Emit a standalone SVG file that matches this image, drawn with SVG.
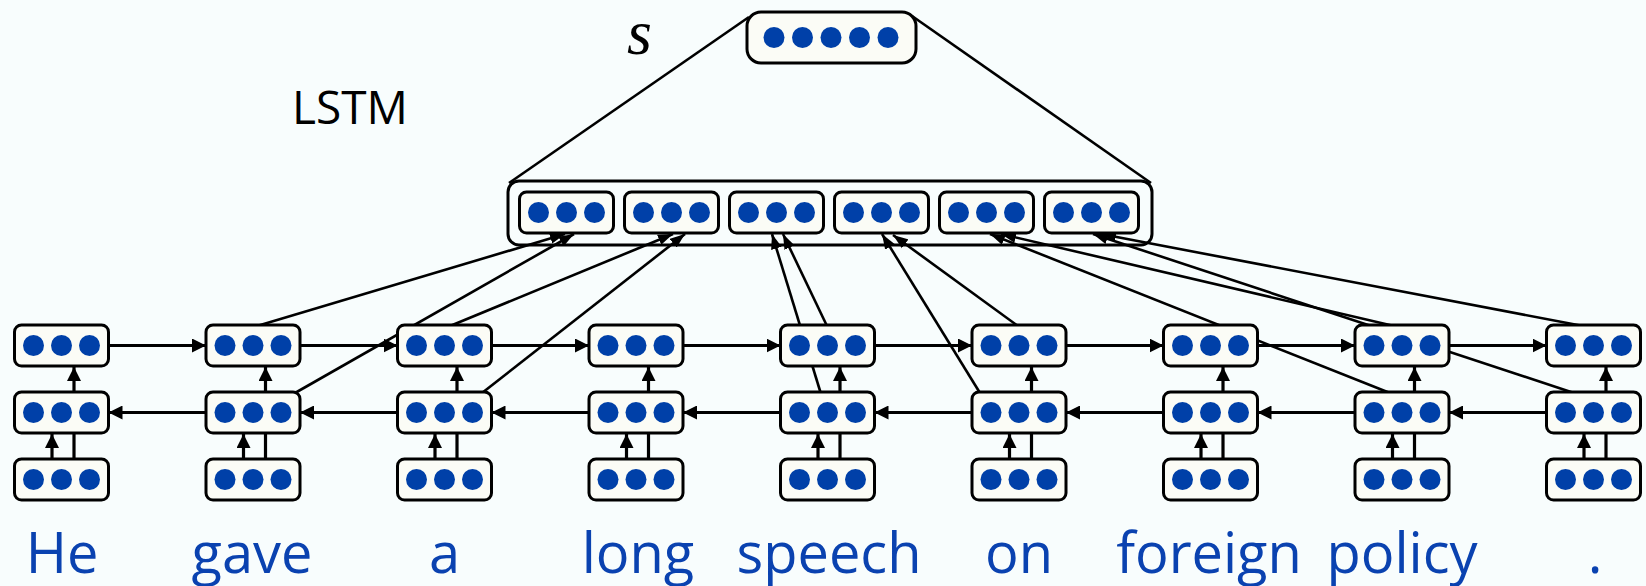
<svg xmlns="http://www.w3.org/2000/svg" xmlns:xlink="http://www.w3.org/1999/xlink" width="1646" height="586" viewBox="0 0 1646 586">
<style>
.bx{fill:#fbfcf6;stroke:#000;stroke-width:3}
.dot{fill:#0040a8}
.cn{stroke:#000;stroke-width:2.6;fill:none}
.hz{stroke:#000;stroke-width:3.2;fill:none}
.word{font-family:"Open Sans","DejaVu Sans",sans-serif;font-size:56px;fill:#0a42b0;text-anchor:middle}
</style>
<defs>
<marker id="ah" markerUnits="userSpaceOnUse" markerWidth="15" markerHeight="14" refX="14" refY="7" orient="auto"><path d="M0,0 L14,7 L0,14 z" fill="#000"/></marker>
<marker id="ad" markerUnits="userSpaceOnUse" markerWidth="16" markerHeight="12" refX="15" refY="6" orient="auto"><path d="M0,0.5 L15,6 L0,11.5 z" fill="#000"/></marker>
<g id="v3"><rect class="bx" x="0" y="0" width="94" height="41" rx="7"/><circle class="dot" cx="19" cy="20.5" r="10.5"/><circle class="dot" cx="47" cy="20.5" r="10.5"/><circle class="dot" cx="75" cy="20.5" r="10.5"/></g>
</defs>
<rect x="0" y="0" width="1646" height="586" fill="#f8fdfd"/>

<g id="node-container">
<rect x="508" y="181" width="644" height="64" rx="11" fill="#f8fdfd" stroke="#000" stroke-width="3"/>
</g>

<g id="connectors">
<line class="cn" x1="749" y1="17" x2="509" y2="183"/>
<line class="cn" x1="912" y1="16" x2="1151" y2="183"/>
<!-- forward top row -->
<line class="hz" x1="108.5" y1="345.5" x2="206" y2="345.5" marker-end="url(#ah)"/>
<line class="hz" x1="300" y1="345.5" x2="397.5" y2="345.5" marker-end="url(#ah)"/>
<line class="hz" x1="491.5" y1="345.5" x2="589" y2="345.5" marker-end="url(#ah)"/>
<line class="hz" x1="683" y1="345.5" x2="780.5" y2="345.5" marker-end="url(#ah)"/>
<line class="hz" x1="874.5" y1="345.5" x2="972" y2="345.5" marker-end="url(#ah)"/>
<line class="hz" x1="1066" y1="345.5" x2="1163.5" y2="345.5" marker-end="url(#ah)"/>
<line class="hz" x1="1257.5" y1="345.5" x2="1355" y2="345.5" marker-end="url(#ah)"/>
<line class="hz" x1="1449" y1="345.5" x2="1546.5" y2="345.5" marker-end="url(#ah)"/>
<!-- backward middle row -->
<line class="hz" x1="206" y1="412.5" x2="108.5" y2="412.5" marker-end="url(#ah)"/>
<line class="hz" x1="397.5" y1="412.5" x2="300" y2="412.5" marker-end="url(#ah)"/>
<line class="hz" x1="589" y1="412.5" x2="491.5" y2="412.5" marker-end="url(#ah)"/>
<line class="hz" x1="780.5" y1="412.5" x2="683" y2="412.5" marker-end="url(#ah)"/>
<line class="hz" x1="972" y1="412.5" x2="874.5" y2="412.5" marker-end="url(#ah)"/>
<line class="hz" x1="1163.5" y1="412.5" x2="1066" y2="412.5" marker-end="url(#ah)"/>
<line class="hz" x1="1355" y1="412.5" x2="1257.5" y2="412.5" marker-end="url(#ah)"/>
<line class="hz" x1="1546.5" y1="412.5" x2="1449" y2="412.5" marker-end="url(#ah)"/>
<!-- vertical arrows per column -->
<line class="hz" x1="52" y1="459" x2="52" y2="434" marker-end="url(#ah)"/><line class="hz" x1="74" y1="460" x2="74" y2="433"/><line class="hz" x1="74" y1="392" x2="74" y2="367" marker-end="url(#ah)"/>
<line class="hz" x1="243.5" y1="459" x2="243.5" y2="434" marker-end="url(#ah)"/><line class="hz" x1="265.5" y1="460" x2="265.5" y2="433"/><line class="hz" x1="265.5" y1="392" x2="265.5" y2="367" marker-end="url(#ah)"/>
<line class="hz" x1="435" y1="459" x2="435" y2="434" marker-end="url(#ah)"/><line class="hz" x1="457" y1="460" x2="457" y2="433"/><line class="hz" x1="457" y1="392" x2="457" y2="367" marker-end="url(#ah)"/>
<line class="hz" x1="626.5" y1="459" x2="626.5" y2="434" marker-end="url(#ah)"/><line class="hz" x1="648.5" y1="460" x2="648.5" y2="433"/><line class="hz" x1="648.5" y1="392" x2="648.5" y2="367" marker-end="url(#ah)"/>
<line class="hz" x1="818" y1="459" x2="818" y2="434" marker-end="url(#ah)"/><line class="hz" x1="840" y1="460" x2="840" y2="433"/><line class="hz" x1="840" y1="392" x2="840" y2="367" marker-end="url(#ah)"/>
<line class="hz" x1="1009.5" y1="459" x2="1009.5" y2="434" marker-end="url(#ah)"/><line class="hz" x1="1031.5" y1="460" x2="1031.5" y2="433"/><line class="hz" x1="1031.5" y1="392" x2="1031.5" y2="367" marker-end="url(#ah)"/>
<line class="hz" x1="1201" y1="459" x2="1201" y2="434" marker-end="url(#ah)"/><line class="hz" x1="1223" y1="460" x2="1223" y2="433"/><line class="hz" x1="1223" y1="392" x2="1223" y2="367" marker-end="url(#ah)"/>
<line class="hz" x1="1392.5" y1="459" x2="1392.5" y2="434" marker-end="url(#ah)"/><line class="hz" x1="1414.5" y1="460" x2="1414.5" y2="433"/><line class="hz" x1="1414.5" y1="392" x2="1414.5" y2="367" marker-end="url(#ah)"/>
<line class="hz" x1="1584" y1="459" x2="1584" y2="434" marker-end="url(#ah)"/><line class="hz" x1="1606" y1="460" x2="1606" y2="433"/><line class="hz" x1="1606" y1="392" x2="1606" y2="367" marker-end="url(#ah)"/>
<!-- states to phrase vector -->
<line class="cn" x1="257" y1="326" x2="565" y2="234" marker-end="url(#ad)"/>
<line class="cn" x1="295" y1="393" x2="574" y2="234" marker-end="url(#ad)"/>
<line class="cn" x1="450" y1="326" x2="673" y2="234" marker-end="url(#ad)"/>
<line class="cn" x1="482" y1="393" x2="685" y2="234" marker-end="url(#ad)"/>
<line class="cn" x1="827" y1="326" x2="783" y2="234" marker-end="url(#ad)"/>
<line class="cn" x1="821" y1="394" x2="772" y2="234" marker-end="url(#ad)"/>
<line class="cn" x1="980" y1="393" x2="882" y2="234" marker-end="url(#ad)"/>
<line class="cn" x1="1018" y1="326" x2="893" y2="235" marker-end="url(#ad)"/>
<line class="cn" x1="1390" y1="393" x2="990" y2="234" marker-end="url(#ad)"/>
<line class="cn" x1="1394" y1="326" x2="1001" y2="234" marker-end="url(#ad)"/>
<line class="cn" x1="1574" y1="393" x2="1093" y2="234" marker-end="url(#ad)"/>
<line class="cn" x1="1583" y1="326" x2="1101" y2="234" marker-end="url(#ad)"/>
</g>

<g id="node-s">
<rect class="bx" x="747" y="12" width="169" height="51" rx="14"/>
<circle class="dot" cx="774" cy="37.5" r="10.5"/><circle class="dot" cx="802.5" cy="37.5" r="10.5"/><circle class="dot" cx="831" cy="37.5" r="10.5"/><circle class="dot" cx="859.5" cy="37.5" r="10.5"/><circle class="dot" cx="888" cy="37.5" r="10.5"/>
</g>
<g id="phrase-1"><use xlink:href="#v3" x="519.5" y="192"/></g>
<g id="phrase-2"><use xlink:href="#v3" x="624.5" y="192"/></g>
<g id="phrase-3"><use xlink:href="#v3" x="729.5" y="192"/></g>
<g id="phrase-4"><use xlink:href="#v3" x="834.5" y="192"/></g>
<g id="phrase-5"><use xlink:href="#v3" x="939.5" y="192"/></g>
<g id="phrase-6"><use xlink:href="#v3" x="1044.5" y="192"/></g>

<g id="col-he"><use xlink:href="#v3" x="14.5" y="325"/><use xlink:href="#v3" x="14.5" y="392"/><use xlink:href="#v3" x="14.5" y="459"/></g>
<g id="col-gave"><use xlink:href="#v3" x="206" y="325"/><use xlink:href="#v3" x="206" y="392"/><use xlink:href="#v3" x="206" y="459"/></g>
<g id="col-a"><use xlink:href="#v3" x="397.5" y="325"/><use xlink:href="#v3" x="397.5" y="392"/><use xlink:href="#v3" x="397.5" y="459"/></g>
<g id="col-long"><use xlink:href="#v3" x="589" y="325"/><use xlink:href="#v3" x="589" y="392"/><use xlink:href="#v3" x="589" y="459"/></g>
<g id="col-speech"><use xlink:href="#v3" x="780.5" y="325"/><use xlink:href="#v3" x="780.5" y="392"/><use xlink:href="#v3" x="780.5" y="459"/></g>
<g id="col-on"><use xlink:href="#v3" x="972" y="325"/><use xlink:href="#v3" x="972" y="392"/><use xlink:href="#v3" x="972" y="459"/></g>
<g id="col-foreign"><use xlink:href="#v3" x="1163.5" y="325"/><use xlink:href="#v3" x="1163.5" y="392"/><use xlink:href="#v3" x="1163.5" y="459"/></g>
<g id="col-policy"><use xlink:href="#v3" x="1355" y="325"/><use xlink:href="#v3" x="1355" y="392"/><use xlink:href="#v3" x="1355" y="459"/></g>
<g id="col-period"><use xlink:href="#v3" x="1546.5" y="325"/><use xlink:href="#v3" x="1546.5" y="392"/><use xlink:href="#v3" x="1546.5" y="459"/></g>

<g id="labels">
<text x="627" y="54" font-family="'Liberation Serif',serif" font-style="italic" font-size="64" fill="#000">s</text>
<text x="350" y="124" font-family="'Open Sans','DejaVu Sans',sans-serif" font-size="46" fill="#000" text-anchor="middle">LSTM</text>
<text class="word" x="62" y="573">He</text>
<text class="word" x="252" y="573">gave</text>
<text class="word" x="444.5" y="573">a</text>
<text class="word" x="638" y="573">long</text>
<text class="word" x="829" y="573">speech</text>
<text class="word" x="1019" y="573">on</text>
<text class="word" x="1209" y="573">foreign</text>
<text class="word" x="1402" y="573">policy</text>
<text class="word" x="1595" y="573">.</text>
</g>
</svg>
